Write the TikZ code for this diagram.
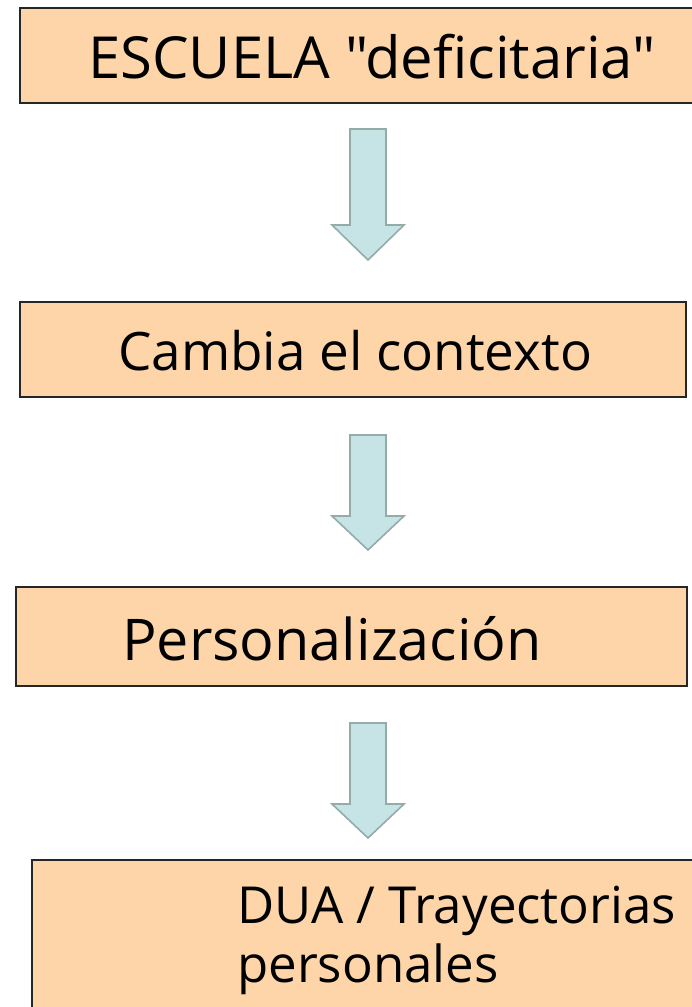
\documentclass[tikz,border=0pt]{standalone}
\usepackage{fontspec}
\setmainfont{Open Sans}
\newfontfamily\boxfont{Open Sans}
\definecolor{peach}{HTML}{FDD5A8}
\definecolor{arrowfill}{HTML}{C6E3E6}
\definecolor{arrowline}{HTML}{94ABAA}
\begin{document}
\begin{tikzpicture}[x=1pt,y=-1pt,
  box/.style={draw=black!85, line width=1.6pt, fill=peach},
  label/.style={anchor=base west, inner sep=0pt, font=\boxfont},
  downarrow/.style={draw=arrowline, line width=1.6pt, fill=arrowfill, line join=miter}]
\useasboundingbox (0,0) rectangle (692,1007);
\fill[white] (0,0) rectangle (692,1007);
% boxes
\draw[box] (20,8) rectangle (696,103);
\draw[box] (20,302) rectangle (686,397);
\draw[box] (16,587) rectangle (687,686);
\draw[box] (32,860) rectangle (696,1012);
% texts
\node[label, font=\boxfont\fontsize{58}{68}\selectfont] (t1) at (88,78) {ESCUELA "deficitaria"};
\node[label, font=\boxfont\fontsize{53}{62}\selectfont] (t2) at (118,370) {Cambia el contexto};
\node[label, font=\boxfont\fontsize{57.5}{68}\selectfont] (t3) at (122,660) {Personalización};
\node[label, align=left, font=\boxfont\fontsize{51}{59}\selectfont] (t4) at (237,982) {DUA / Trayectorias\\personales};
% arrows
\foreach \top/\base/\tip [count=\i] in {129/225/260, 435/516/550, 723/804/838}{
  \coordinate (a\i) at (368,\top);
  \draw[downarrow] (350,\top) -- (386,\top) -- (386,\base) -- (404,\base) -- (368,\tip)
     -- (332,\base) -- (350,\base) -- cycle;
}
\end{tikzpicture}
\end{document}
